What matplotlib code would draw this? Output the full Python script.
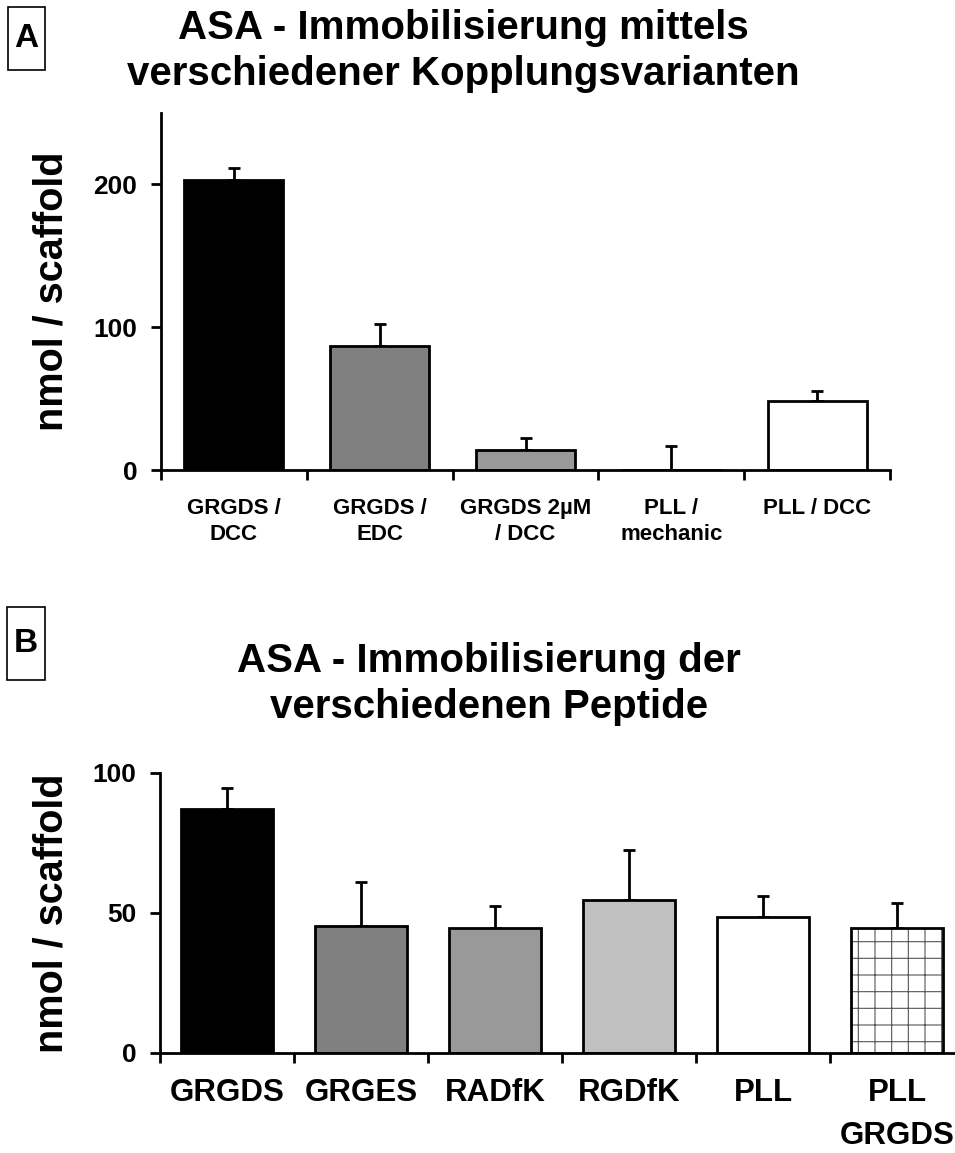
import matplotlib
matplotlib.use("Agg")
import matplotlib.pyplot as plt
from matplotlib.patches import Rectangle

plt.rcParams["font.family"] = ["Liberation Sans", "DejaVu Sans"]
plt.rcParams["font.weight"] = "bold"
plt.rcParams["hatch.linewidth"] = 0.8

# panel A: coupling variants
cats_a = ["GRGDS /\nDCC", "GRGDS /\nEDC", "GRGDS 2µM\n/ DCC", "PLL /\nmechanic", "PLL / DCC"]
vals_a = [203, 87, 14, 0, 48]
err_a = [8.5, 15.5, 8.5, 17, 7]
cols_a = ["#000000", "#808080", "#999999", "#ffffff", "#ffffff"]

# panel B: peptides
cats_b = ["GRGDS", "GRGES", "RADfK", "RGDfK", "PLL", "PLL\nGRGDS"]
vals_b = [87, 45.5, 44.5, 54.5, 48.5, 44.5]
err_b = [7.5, 15.5, 8, 18, 7.5, 9]
cols_b = ["#000000", "#808080", "#999999", "#c0c0c0", "#ffffff", "#ffffff"]
hatched_b = [False, False, False, False, False, True]

W, H = 955, 1153
fig = plt.figure(figsize=(W / 100, H / 100), dpi=100)


def ax_at(left, top, right, bottom):
    return fig.add_axes([left / W, 1 - bottom / H, (right - left) / W, (bottom - top) / H])


def style(ax, n, ymax, yticks):
    for s in ("top", "right"):
        ax.spines[s].set_visible(False)
    for s in ("left", "bottom"):
        ax.spines[s].set_linewidth(2)
    ax.set_xlim(0, n)
    ax.set_ylim(0, ymax)
    ax.set_yticks(yticks)
    ax.tick_params(axis="y", direction="out", length=7, width=2, pad=10, labelsize=19)
    for t in ax.get_yticklabels():
        t.set_fontweight("bold")
    # boundary ticks between groups, labels centred on the bars
    ax.set_xticks(range(n + 1))
    ax.set_xticklabels([""] * (n + 1))
    ax.tick_params(axis="x", which="major", direction="out", length=7, width=2)


def bars(ax, vals, errs, cols, cats, xfont, linesp, pad, hatched=None):
    x = [i + 0.5 for i in range(len(vals))]
    for i, (xi, v, e, c) in enumerate(zip(x, vals, errs, cols)):
        if hatched and hatched[i]:
            ax.bar(xi, v, width=0.68, color="white", edgecolor="#555555",
                   linewidth=0, hatch="+", zorder=2)
            ax.bar(xi, v, width=0.68, color="none", edgecolor="black",
                   linewidth=2, zorder=3)
        else:
            ax.bar(xi, v, width=0.68, color=c, edgecolor="black", linewidth=2, zorder=2)
        ax.errorbar(xi, v, yerr=[[0], [e]], fmt="none", ecolor="black",
                    elinewidth=2, capsize=4.5, capthick=2, zorder=1)
    ax.set_xticks(x, minor=True)
    ax.set_xticklabels(cats, minor=True, fontsize=xfont, fontweight="bold",
                       linespacing=linesp, va="top")
    ax.tick_params(axis="x", which="minor", length=0, pad=pad)


ax_a = ax_at(161, 113, 890, 470)
style(ax_a, 5, 250, [0, 100, 200])
bars(ax_a, vals_a, err_a, cols_a, cats_a, 16, 1.35, 20)
ax_a.set_ylabel("nmol / scaffold", fontsize=28.5, fontweight="bold")
ax_a.yaxis.set_label_coords(-(161 - 70) / 729, 0.5)

ax_b = ax_at(160, 773, 964, 1053)
style(ax_b, 6, 100, [0, 50, 100])
bars(ax_b, vals_b, err_b, cols_b, cats_b, 22.5, 1.55, 18, hatched_b)
ax_b.set_ylabel("nmol / scaffold", fontsize=28.5, fontweight="bold")
ax_b.yaxis.set_label_coords(-(160 - 70) / 804, 0.5)

fig.text(463 / W, 1 - 51 / H, "ASA - Immobilisierung mittels\nverschiedener Kopplungsvarianten",
         ha="center", va="center", fontsize=29, fontweight="bold", linespacing=1.25)
fig.text(489 / W, 1 - 684 / H, "ASA - Immobilisierung der\nverschiedenen Peptide",
         ha="center", va="center", fontsize=29, fontweight="bold", linespacing=1.25)

# panel letters in framed boxes
for letter, (x0, y0, x1, y1) in (("A", (8, 7, 45, 70)), ("B", (7, 607, 45, 680))):
    fig.patches.append(Rectangle((x0 / W, 1 - y1 / H), (x1 - x0) / W, (y1 - y0) / H,
                                 transform=fig.transFigure, fill=False,
                                 edgecolor="black", linewidth=1.2))
    fig.text((x0 + x1) / 2 / W, 1 - (y0 + y1) / 2 / H, letter, ha="center", va="center",
             fontsize=24, fontweight="bold")

fig.savefig("out.png", dpi=100)
